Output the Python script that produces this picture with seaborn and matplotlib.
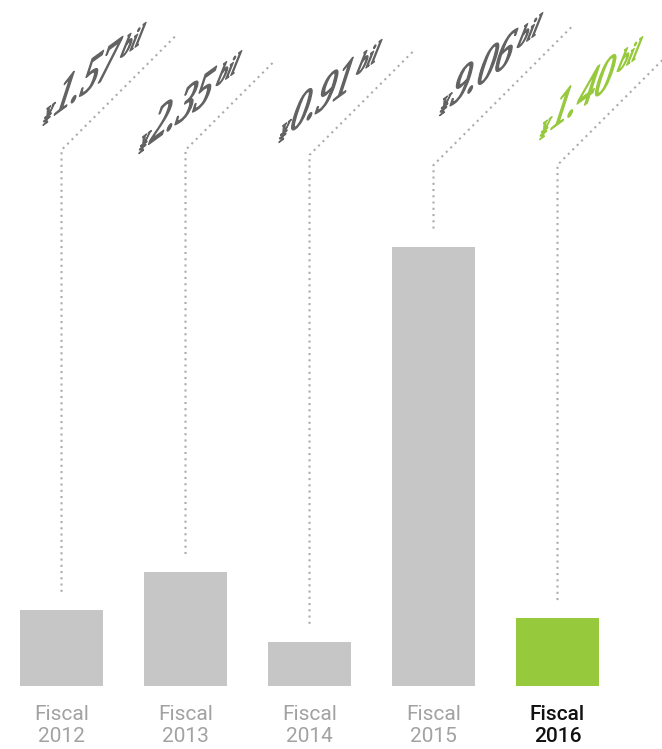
import matplotlib
matplotlib.use("Agg")
import matplotlib.pyplot as plt
import matplotlib.patheffects as pe
from matplotlib.transforms import Affine2D, IdentityTransform
import numpy as np
import seaborn as sns

# ── Data ───────────────────────────────────────────────────────────────────
years        = ["2012", "2013", "2014", "2015", "2016"]
values       = [1.57, 2.35, 0.91, 9.06, 1.40]          # ¥ billion
value_labels = ["1.57", "2.35", "0.91", "9.06", "1.40"]
tick_labels  = ["Fiscal\n" + y for y in years]
highlight    = "2016"

# ── Style ──────────────────────────────────────────────────────────────────
BAR_GREY   = "#c6c6c6"
GREEN      = "#97c93d"
LABEL_GREY = "#626262"
TICK_GREY  = "#a2a2a2"
DOT_GREY   = "#ababab"

# leader lines: elbow height (px from top) and diagonal length (px)
elbow_px = [150, 150, 155, 165, 165]
diag_px  = [164, 124, 147, 199, 165]

W, H = 662, 749
BASE_PX = 686          # bar baseline, px from top
PX_PER_BIL = 48.5
STEP_PX = 124
FIRST_PX = 61.5

sns.set_theme(style="white")
fig = plt.figure(figsize=(W / 100, H / 100), dpi=100)
ax = fig.add_axes([0, (H - BASE_PX) / H, 1, BASE_PX / H])

colors = [GREEN if y == highlight else BAR_GREY for y in years]
sns.barplot(x=years, y=values, hue=years, palette=colors, order=years,
            width=0.67, saturation=1, legend=False, ax=ax, linewidth=0)

ax.set_xlim(-FIRST_PX / STEP_PX, (W - FIRST_PX) / STEP_PX)
ax.set_ylim(0, BASE_PX / PX_PER_BIL)
sns.despine(ax=ax, left=True, bottom=True)
ax.set_yticks([])
ax.set_ylabel("")
ax.set_xlabel("")
ax.set_xticks(range(len(years)))
ax.set_xticklabels(tick_labels, family="Roboto", fontsize=15, linespacing=1.2)
ax.tick_params(axis="x", length=0, pad=14)
for lbl, y in zip(ax.get_xticklabels(), years):
    if y == highlight:
        lbl.set_color("#111111")
        lbl.set_fontweight("medium")
    else:
        lbl.set_color(TICK_GREY)
        lbl.set_fontweight("normal")

# ── Leader lines ───────────────────────────────────────────────────────────
gap = 18 / PX_PER_BIL
for i, v in enumerate(values):
    top = (BASE_PX - elbow_px[i]) / PX_PER_BIL
    d = diag_px[i] / np.sqrt(2)
    xs = [i, i, i + d / STEP_PX]
    ys = [v + gap, top, top + d / PX_PER_BIL]
    ax.plot(xs, ys, color=DOT_GREY, lw=1.5, linestyle=(0, (1, 2)))


# ── Sheared value labels ───────────────────────────────────────────────────
class Shear(pe.AbstractPathEffect):
    """Draw text through a linear map about its own anchor point."""

    def __init__(self, matrix, origin, color, lw=0.9):
        super().__init__()
        self.matrix = matrix
        self.origin = origin
        self.color = color
        self.lw = lw

    def draw_path(self, renderer, gc, tpath, affine, rgbFace=None):
        ox, oy = self.origin
        sk = (Affine2D().translate(-ox, -oy) + Affine2D(self.matrix)
              + Affine2D().translate(ox, oy))
        gc0 = renderer.new_gc()
        gc0.copy_properties(gc)
        gc0.set_linewidth(self.lw)
        gc0.set_foreground(self.color)
        renderer.draw_path(gc0, tpath, affine + sk, rgbFace)
        gc0.restore()


a, rise = 0.8, np.tan(np.deg2rad(36))    # baseline: width scale, slope
b, lean = 1.35, np.tan(np.deg2rad(18))   # glyph height scale, lean
M = np.array([[a, b * lean, 0],
              [a * rise, b, 0],
              [0, 0, 1]])
u_vec, v_vec = M[:2, 0], M[:2, 1]

NUM_FS, YEN_FS, BIL_FS = 31, 15, 17
SERIF = "Liberation Serif"
renderer = fig.canvas.get_renderer()


def width_of(s, **kw):
    t = fig.text(0, 0, s, **kw)
    w = t.get_window_extent(renderer).width
    t.remove()
    return w


d_vec = np.array([1, 1]) / np.sqrt(2)
BIL_DY = 9
for i, lab in enumerate(value_labels):
    col = GREEN if years[i] == highlight else LABEL_GREY
    yen_kw = dict(fontsize=YEN_FS, family=SERIF)
    num_kw = dict(fontsize=NUM_FS, family=SERIF)
    bil_kw = dict(fontsize=BIL_FS, family=SERIF, style="italic")
    w_yen = width_of("¥", **yen_kw)
    w_num = width_of(lab, **num_kw)
    w_bil = width_of("bil", **bil_kw)
    pieces = [("¥", 0, -2, yen_kw),
              (lab, w_yen + 1, 0, num_kw),
              ("bil", w_yen + w_num + 6, BIL_DY, bil_kw)]
    total = w_yen + w_num + 6 + w_bil

    # end of the diagonal in display px (y up)
    top_y = H - elbow_px[i]
    x0 = FIRST_PX + STEP_PX * i
    dend = np.array([x0, top_y]) + diag_px[i] * d_vec
    bil_end = dend + np.array([-38, -10])
    origin = bil_end - BIL_DY * v_vec - total * u_vec
    for s, dx, dy, kw in pieces:
        p = origin + dx * u_vec + dy * v_vec
        fig.text(p[0], p[1], s, color=col,
                 transform=IdentityTransform(), ha="left", va="baseline",
                 path_effects=[Shear(M, p, col)], **kw)

fig.savefig("out.png", dpi=100)
